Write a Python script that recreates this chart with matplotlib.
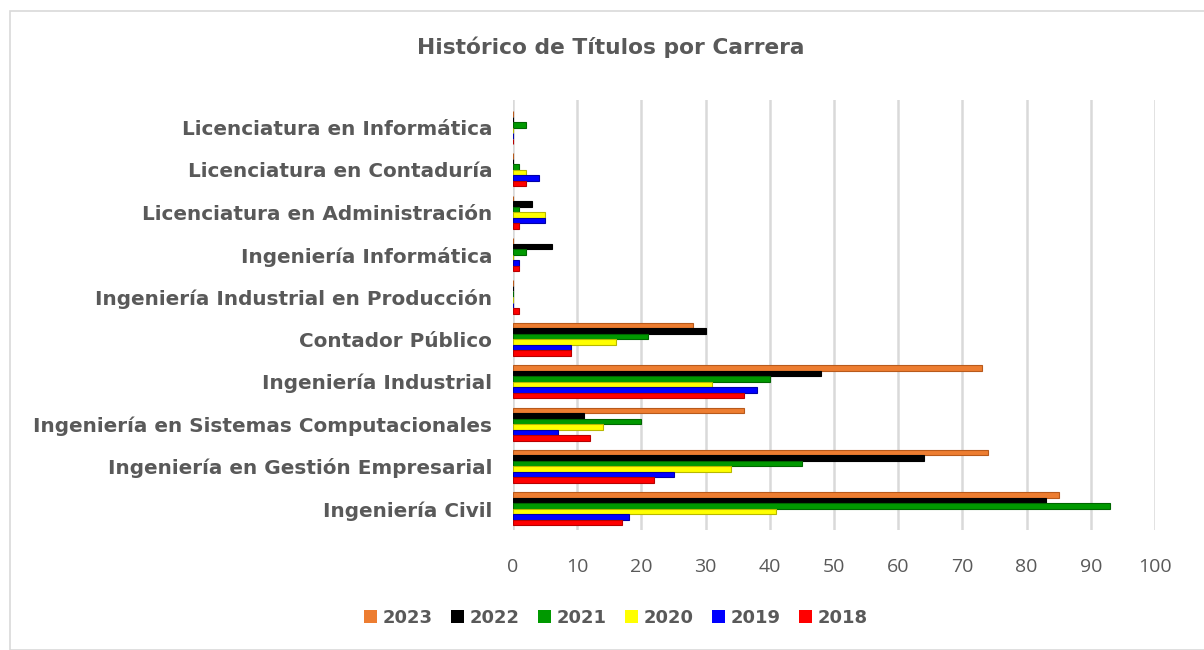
import matplotlib
matplotlib.use("Agg")
import matplotlib.pyplot as plt
from matplotlib.patches import Rectangle, Patch
import numpy as np

categories = [
    "Ingeniería Civil",
    "Ingeniería en Gestión Empresarial",
    "Ingeniería en Sistemas Computacionales",
    "Ingeniería Industrial",
    "Contador Público",
    "Ingeniería Industrial en Producción",
    "Ingeniería Informática",
    "Licenciatura en Administración",
    "Licenciatura en Contaduría",
    "Licenciatura en Informática",
]
years = ["2023", "2022", "2021", "2020", "2019", "2018"]
v2023 = [85, 74, 36, 73, 28, 0, 0, 0, 0, 0]
v2022 = [83, 64, 11, 48, 30, 0, 6, 3, 0, 0]
v2021 = [93, 45, 20, 40, 21, 0, 2, 1, 1, 2]
v2020 = [41, 34, 14, 31, 16, 0, 0, 5, 2, 0]
v2019 = [18, 25, 7, 38, 9, 0, 1, 5, 4, 0]
v2018 = [17, 22, 12, 36, 9, 1, 1, 1, 2, 0]
series = [v2023, v2022, v2021, v2020, v2019, v2018]
colors = ["#ED7D31", "#000000", "#009900", "#FFFF00", "#0000FF", "#FF0000"]
edges = ["#B85A1C", "#000000", "#006600", "#B8B800", "#0000A8", "#B80000"]
xticks = list(range(0, 101, 10))

BOLD = "DejaVu Sans"
REG = "Open Sans"
GRAY = "#595959"

fig = plt.figure(figsize=(12.04, 6.5), dpi=100)
fig.patches.append(Rectangle((10 / 1204, 0.0), 1.2, (650 - 11) / 650,
                             transform=fig.transFigure, fill=False,
                             edgecolor="#D9D9D9", linewidth=1.2))
ax = fig.add_axes([513 / 1204, (650 - 530) / 650, 642 / 1204, 430 / 650])

y = np.arange(len(categories))
h = 0.13
for k, (vals, c, e) in enumerate(zip(series, colors, edges)):
    off = (2.5 - k) * h
    ax.barh(y + off, vals, height=h, color=c, edgecolor=e, linewidth=0.8,
            label=years[k], zorder=3)

ax.set_xlim(0, 100)
ax.set_ylim(-0.5, 9.65)
ax.set_xticks(xticks)
ax.set_xticklabels([str(t) for t in xticks], fontsize=14, color=GRAY, family=REG)
ax.set_yticks(y)
ax.set_yticklabels(categories, fontsize=14.4, color=GRAY, family=BOLD, fontweight="bold")
ax.tick_params(axis="x", length=0, pad=20)
ax.tick_params(axis="y", length=0, pad=15)
ax.xaxis.grid(True, color="#D9D9D9", linewidth=1.8, zorder=0)
ax.set_axisbelow(True)
for s in ax.spines.values():
    s.set_visible(False)

fig.text(611 / 1204, 1 - 47 / 650, "Histórico de Títulos por Carrera",
         ha="center", va="center", fontsize=15.7, fontweight="bold",
         color=GRAY, family=BOLD)

handles = [Patch(facecolor=c, edgecolor="none", label=yr) for c, yr in zip(colors, years)]
leg = fig.legend(handles=handles, loc="center", bbox_to_anchor=(616 / 1204, 1 - 618 / 650),
                 ncol=6, frameon=False, handlelength=0.7, handleheight=0.7,
                 handletextpad=0.3, columnspacing=1.05,
                 prop={"family": BOLD, "weight": "bold", "size": 13})
for t in leg.get_texts():
    t.set_color(GRAY)

fig.savefig("out.png", dpi=100)
